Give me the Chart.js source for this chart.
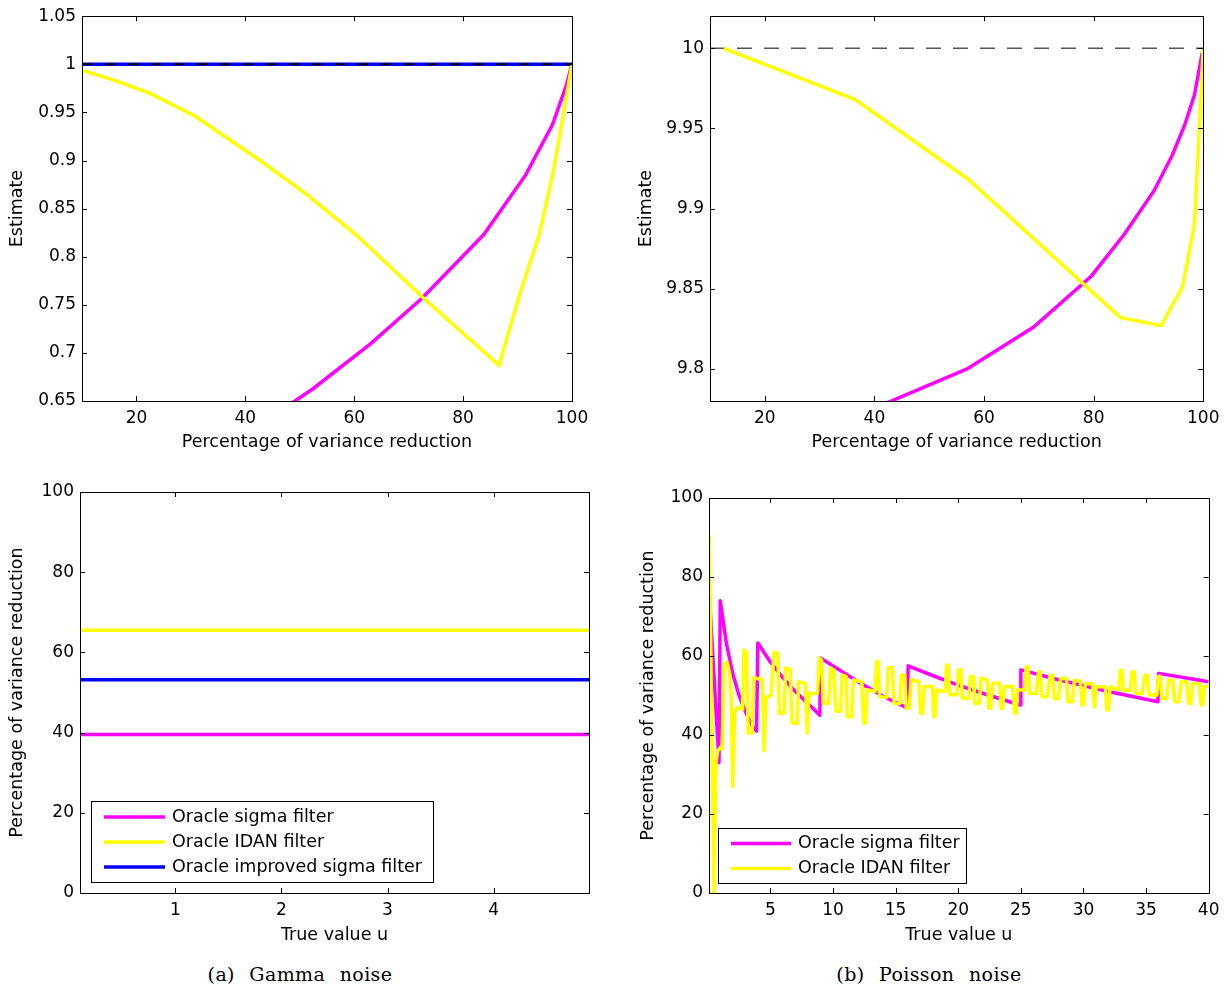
<!DOCTYPE html>
<html>
<head>
<meta charset="utf-8">
<script src="https://cdn.jsdelivr.net/npm/chart.js@4.4.1/dist/chart.umd.min.js"></script>
<style>
  body { margin: 0; background: #fff; width: 1227px; height: 992px; position: relative; overflow: hidden; }
  .panel { position: absolute; }
  .panel canvas { display: block; }
  .caption { position: absolute; font-family: "DejaVu Serif", serif; font-size: 19px; letter-spacing: 0.4px; word-spacing: 8px; color: #000; white-space: nowrap; transform: translateX(-50%); }
</style>
</head>
<body>
<div class="panel" style="left:0;top:0"><canvas id="gammaEst" width="612" height="460"></canvas></div>
<div class="panel" style="left:620px;top:0"><canvas id="poisEst" width="607" height="460"></canvas></div>
<div class="panel" style="left:0;top:470px"><canvas id="gammaPct" width="612" height="485"></canvas></div>
<div class="panel" style="left:620px;top:470px"><canvas id="poisPct" width="607" height="485"></canvas></div>
<div class="caption" style="left:300px;top:963px">(a) Gamma noise</div>
<div class="caption" style="left:929px;top:963px">(b) Poisson noise</div>

<script>
// ---- top left: Gamma, estimate vs percentage of variance reduction
const gammaEstXTicks = [20, 40, 60, 80, 100];
const gammaEstYTicks = [0.65, 0.7, 0.75, 0.8, 0.85, 0.9, 0.95, 1, 1.05];
const gammaEstSigmaX = [40, 52.5, 63.1, 72.5, 83.8, 91.5, 96.4, 98.9, 100];
const gammaEstSigmaY = [0.615, 0.663, 0.710, 0.757, 0.823, 0.885, 0.937, 0.977, 1.0];
const gammaEstIdanX = [10, 16.1, 22.4, 30.8, 42.7, 51.2, 60.3, 72.9, 86.6, 90.4, 94, 96.7, 100];
const gammaEstIdanY = [0.994, 0.983, 0.970, 0.946, 0.900, 0.865, 0.823, 0.756, 0.687, 0.761, 0.823, 0.892, 1.0];
const gammaEstImprX = [10, 100];
const gammaEstImprY = [1, 1];
const gammaTrueX = [10, 100];
const gammaTrueY = [1, 1];

// ---- top right: Poisson, estimate vs percentage of variance reduction
const poisEstXTicks = [20, 40, 60, 80, 100];
const poisEstYTicks = [9.8, 9.85, 9.9, 9.95, 10];
const poisEstSigmaX = [30, 56.9, 69, 79.6, 85.6, 91, 94.3, 96.6, 98.4, 99.8];
const poisEstSigmaY = [9.761, 9.80, 9.826, 9.858, 9.884, 9.911, 9.933, 9.952, 9.971, 9.997];
const poisEstIdanX = [12.5, 36.5, 57.2, 84.9, 92.3, 96.2, 98.4, 100];
const poisEstIdanY = [10.0, 9.968, 9.918, 9.832, 9.827, 9.851, 9.890, 10.0];
const poisTrueX = [10, 100];
const poisTrueY = [10, 10];

// ---- bottom left: Gamma, percentage vs true value
const gammaPctXTicks = [1, 2, 3, 4];
const pctYTicks = [0, 20, 40, 60, 80, 100];
const gammaU = [0.1, 4.9];
const gammaSigmaPct = [39.5, 39.5];
const gammaIdanPct = [65.5, 65.5];
const gammaImprPct = [53.2, 53.2];

// ---- bottom right: Poisson, percentage vs true value
const poisPctXTicks = [5, 10, 15, 20, 25, 30, 35, 40];
const poisSigmaU = [0.1, 0.9, 1.0, 1.5, 2.0, 2.5, 3.0, 3.5, 3.9, 4.0, 5, 6, 7, 8, 8.95, 9.0, 10, 12, 14, 15.95,
  16.0, 18, 20, 22, 24.95, 25.0, 28, 32, 35.95, 36.0, 40];
const poisSigmaPct = [77, 33, 74, 63, 55.5, 50, 46, 42.5, 41, 63.3, 58.5, 54.5, 51, 48, 45, 59.5, 57.5, 53.5, 49.8, 46.8,
  57.5, 55, 52.6, 50.5, 47.6, 56.5, 54, 51, 48.4, 55.6, 53.5];
const poisIdanU = [0.12, 0.5, 0.65, 0.8, 1.05, 1.15, 1.3, 1.55, 1.75, 1.88, 2.0, 2.15, 2.45, 2.78, 2.88, 3.1, 3.22, 3.55,
  3.65, 4.35, 4.5, 4.65, 5.05, 5.3, 5.6, 5.72, 6.1, 6.22, 6.6, 6.72, 7.15, 7.25, 7.8, 7.95, 8.08, 8.75, 8.92, 9.08,
  9.25, 9.65, 9.82, 10.05, 10.25, 10.6, 10.72, 11.05, 11.15, 11.5, 11.62, 12.3, 12.45, 12.6, 12.72, 13.35, 13.48, 13.6,
  13.72, 14.3, 14.42, 14.75, 14.88, 15.35, 15.48, 15.72, 15.85, 16.1, 16.25, 16.85, 17.0, 17.15, 17.28, 17.95, 18.05,
  18.15, 18.27, 18.95, 19.08, 19.2, 19.32, 19.9, 20.02, 20.22, 20.33, 20.85, 20.97, 21.22, 21.33, 21.7, 21.82, 22.32,
  22.45, 22.6, 22.75, 23.3, 23.43, 23.55, 23.7, 24.35, 24.5, 24.62, 24.75, 25.3, 25.42, 25.58, 25.7, 26.25, 26.4, 26.55,
  26.68, 27.12, 27.32, 27.55, 27.68, 28.0, 28.18, 28.65, 28.77, 29.1, 29.28, 29.75, 29.88, 30.02, 30.15, 30.72, 30.88,
  31.02, 31.75, 31.88, 32.0, 32.12, 32.8, 32.93, 33.07, 33.17, 33.74, 33.87, 34.05, 34.18, 34.68, 34.9, 35.1, 35.25,
  35.86, 36.0, 36.12, 36.26, 36.66, 36.8, 37.14, 37.3, 37.6, 37.82, 38.25, 38.4, 38.57, 38.73, 39.26, 39.4, 39.53,
  39.65, 40];
const poisIdanPct = [90.5, 0, 33, 36, 37, 36.5, 58, 58.5, 55.5, 50, 27, 46, 47, 46.5, 61.5, 61, 40.5, 40.5,
  54.5, 54, 36, 49.5, 50, 61, 60.5, 45.5, 45.5, 57, 56.5, 43, 43, 53.5, 53, 40.5, 50.5, 50.5, 59.5, 59,
  48, 48, 57, 56.5, 46, 46, 55.2, 54.8, 44.6, 44.6, 53.9, 53.5, 43, 43, 51.5, 51, 58.6, 58.6,
  49.7, 49.5, 57, 57, 48, 48, 55.2, 55.2, 46.8, 46.8, 54, 53.5, 45.5, 45.5, 52.3, 52.3, 44.7,
  44.7, 51.4, 51, 57.7, 57.7, 50.2, 50.2, 56.5, 56.5, 49.3, 49.3, 54.8, 54.8, 48, 48, 54.4, 54,
  46.8, 46.8, 53.1, 53.1, 46.8, 46.8, 52.3, 52.3, 45.5, 45.5, 51.5, 51.3, 57.2, 57.2, 50.6, 50.5, 56, 56,
  49.7, 49.7, 55.1, 55.1, 49.2, 49.2, 54.3, 54.3, 48.4, 48.4, 53.9, 53.6, 47.6, 47.6, 53, 53, 47.1,
  52.2, 52.2, 46.3, 46.3, 52.2, 51.5, 56.4, 56.4, 51.3, 51.3, 56, 56, 50.5, 50.5, 55.1, 55.1, 50.1,
  50.1, 54.9, 54.9, 49.2, 49.2, 53.9, 53.9, 48.4, 48.4, 53.5, 53.5, 48, 48, 53, 53, 47.6, 47.6,
  52.3, 52.3];

const MAGENTA = '#ff00ff', YELLOW = '#ffff00', BLUE = '#0000ff';

Chart.defaults.color = '#000';
Chart.defaults.font.family = '"DejaVu Sans", sans-serif';

function pts(xs, ys) {
  return xs.map((x, i) => ({ x: x, y: ys[i] }));
}

function fmt(v) {
  return String(Math.round(v * 1000) / 1000);
}

// box and inward tick marks on all four sides, like MATLAB axes
const matlabAxes = {
  id: 'matlabAxes',
  afterDatasetsDraw(chart) {
    const { ctx, chartArea: a, scales } = chart;
    const x = scales.x, y = scales.y;
    ctx.save();
    ctx.strokeStyle = '#000';
    ctx.lineWidth = 1;
    ctx.beginPath();
    x.ticks.forEach(t => {
      const px = Math.round(x.getPixelForValue(t.value)) + 0.5;
      ctx.moveTo(px, a.bottom); ctx.lineTo(px, a.bottom - 5);
      ctx.moveTo(px, a.top); ctx.lineTo(px, a.top + 5);
    });
    y.ticks.forEach(t => {
      const py = Math.round(y.getPixelForValue(t.value)) + 0.5;
      ctx.moveTo(a.left, py); ctx.lineTo(a.left + 5, py);
      ctx.moveTo(a.right, py); ctx.lineTo(a.right - 5, py);
    });
    ctx.stroke();
    ctx.strokeRect(Math.round(a.left) + 0.5, Math.round(a.top) + 0.5,
      Math.round(a.right - a.left), Math.round(a.bottom - a.top));
    ctx.restore();
  }
};

// legend in a box inside the axes
const boxLegend = {
  id: 'boxLegend',
  afterDraw(chart, args, o) {
    const ctx = chart.ctx;
    const items = chart.data.datasets.filter(d => d.label);
    ctx.save();
    ctx.fillStyle = '#fff';
    ctx.fillRect(o.x, o.y, o.w, o.h);
    ctx.strokeStyle = '#000';
    ctx.lineWidth = 1;
    ctx.strokeRect(o.x + 0.5, o.y + 0.5, o.w, o.h);
    ctx.font = '17.5px "DejaVu Sans"';
    ctx.textBaseline = 'middle';
    items.forEach((d, i) => {
      const cy = o.y + o.row0 + i * o.rowH;
      ctx.strokeStyle = d.borderColor;
      ctx.lineWidth = 3.5;
      ctx.beginPath();
      ctx.moveTo(o.x + o.line0, cy);
      ctx.lineTo(o.x + o.line1, cy);
      ctx.stroke();
      ctx.fillStyle = '#000';
      ctx.fillText(d.label, o.x + o.text0, cy);
    });
    ctx.restore();
  }
};

function line(label, color, xs, ys, order, extra) {
  return Object.assign({
    label: label,
    data: pts(xs, ys),
    borderColor: color,
    borderWidth: 3.5,
    pointRadius: 0,
    tension: 0,
    fill: false,
    order: order
  }, extra || {});
}

function makePanel(id, cfg) {
  const cv = document.getElementById(id);
  const W = cv.width, H = cv.height, a = cfg.area;
  return new Chart(cv, {
    type: 'line',
    data: { datasets: cfg.datasets },
    options: {
      responsive: false,
      animation: false,
      devicePixelRatio: 1,
      layout: { padding: { left: 0, top: a.t, right: W - a.r, bottom: 0 } },
      plugins: {
        legend: { display: false },
        tooltip: { enabled: false },
        boxLegend: cfg.legend || false
      },
      scales: {
        x: {
          type: 'linear',
          min: cfg.xMin, max: cfg.xMax, bounds: 'data',
          grid: { display: false, drawTicks: false }, border: { display: false },
          afterBuildTicks: s => { s.ticks = cfg.xTicks.map(v => ({ value: v })); },
          afterFit: s => { s.height = H - a.b; },
          ticks: { padding: 7.5, font: { size: 17 }, autoSkip: false, maxRotation: 0, callback: fmt },
          title: { display: true, text: cfg.xTitle, font: { size: 17.5 },
                   padding: { top: 0, bottom: H - cfg.xTitleY - 10.5 } }
        },
        y: {
          type: 'linear',
          min: cfg.yMin, max: cfg.yMax, bounds: 'data',
          grid: { display: false, drawTicks: false }, border: { display: false },
          afterBuildTicks: s => { s.ticks = cfg.yTicks.map(v => ({ value: v })); },
          afterFit: s => { s.width = a.l; },
          ticks: { padding: 6, font: { size: 17 }, autoSkip: false, callback: fmt },
          title: { display: true, text: cfg.yTitle, font: { size: 17.5 },
                   padding: { top: cfg.yTitleX - 10.5, bottom: 0 } }
        }
      }
    },
    plugins: [matlabAxes, boxLegend]
  });
}

makePanel('gammaEst', {
  area: { l: 82, t: 14, r: 572, b: 401 },
  xMin: 10, xMax: 100, yMin: 0.65, yMax: 1.05,
  xTicks: gammaEstXTicks, yTicks: gammaEstYTicks,
  xTitle: 'Percentage of variance reduction', xTitleY: 442.5,
  yTitle: 'Estimate', yTitleX: 17.5,
  datasets: [
    line('Oracle sigma filter', MAGENTA, gammaEstSigmaX, gammaEstSigmaY, 2),
    line('Oracle IDAN filter', YELLOW, gammaEstIdanX, gammaEstIdanY, 1),
    line('Oracle improved sigma filter', BLUE, gammaEstImprX, gammaEstImprY, 3),
    line('', '#000', gammaTrueX, gammaTrueY, 0, { borderWidth: 2, borderDash: [10, 13] })
  ]
});

makePanel('poisEst', {
  area: { l: 90, t: 14, r: 584, b: 401 },
  xMin: 10, xMax: 100, yMin: 9.78, yMax: 10.02,
  xTicks: poisEstXTicks, yTicks: poisEstYTicks,
  xTitle: 'Percentage of variance reduction', xTitleY: 442.5,
  yTitle: 'Estimate', yTitleX: 26,
  datasets: [
    line('', '#555', poisTrueX, poisTrueY, 3, { borderWidth: 1.5, borderDash: [15, 12] }),
    line('Oracle sigma filter', MAGENTA, poisEstSigmaX, poisEstSigmaY, 2),
    line('Oracle IDAN filter', YELLOW, poisEstIdanX, poisEstIdanY, 1)
  ]
});

makePanel('gammaPct', {
  area: { l: 80, t: 22, r: 589, b: 423 },
  xMin: 0.1, xMax: 4.9, yMin: 0, yMax: 100,
  xTicks: gammaPctXTicks, yTicks: pctYTicks,
  xTitle: 'True value u', xTitleY: 465,
  yTitle: 'Percentage of variance reduction', yTitleX: 17.5,
  legend: { x: 91, y: 331, w: 342, h: 81, row0: 16, rowH: 25, line0: 13, line1: 74, text0: 81 },
  datasets: [
    line('Oracle sigma filter', MAGENTA, gammaU, gammaSigmaPct, 2),
    line('Oracle IDAN filter', YELLOW, gammaU, gammaIdanPct, 1),
    line('Oracle improved sigma filter', BLUE, gammaU, gammaImprPct, 3)
  ]
});

makePanel('poisPct', {
  area: { l: 89, t: 28, r: 590, b: 423 },
  xMin: 0.1, xMax: 40, yMin: 0, yMax: 100,
  xTicks: poisPctXTicks, yTicks: pctYTicks,
  xTitle: 'True value u', xTitleY: 465,
  yTitle: 'Percentage of variance reduction', yTitleX: 28,
  legend: { x: 98, y: 358, w: 248, h: 55, row0: 15.5, rowH: 25, line0: 13, line1: 73, text0: 80 },
  datasets: [
    line('Oracle sigma filter', MAGENTA, poisSigmaU, poisSigmaPct, 2, { borderJoinStyle: 'round' }),
    line('Oracle IDAN filter', YELLOW, poisIdanU, poisIdanPct, 1, { borderJoinStyle: 'round' })
  ]
});
</script>
</body>
</html>
